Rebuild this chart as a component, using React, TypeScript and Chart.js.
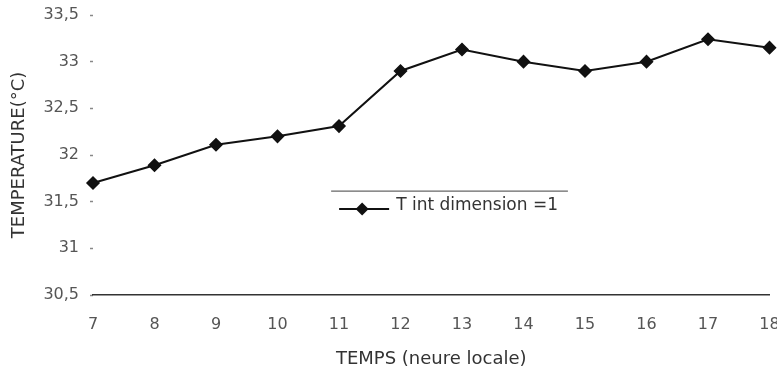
import React, { useEffect, useRef } from "react";
import { Chart, registerables } from "chart.js";

Chart.register(...registerables);

// ---- data ----
const hours: string[] = ["7", "8", "9", "10", "11", "12", "13", "14", "15", "16", "17", "18"];
const tempInt: number[] = [31.7, 31.89, 32.11, 32.2, 32.31, 32.9, 33.13, 33.0, 32.9, 33.0, 33.24, 33.15];
const seriesLabel = "T int dimension =1";
const yMin = 30.5;
const yMax = 33.5;
const yStep = 0.5;
const xTitle = "TEMPS (neure locale)";
const yTitle = "TEMPERATURE(°C)";

const FONT = "'DejaVu Sans', 'Liberation Sans', sans-serif";

const legendPlugin = {
  id: "insideLegend",
  afterDraw(chart: any) {
    const { ctx, chartArea: ca } = chart;
    const w = ca.right - ca.left;
    const h = ca.bottom - ca.top;
    const lx = ca.left + w * 0.352;
    const ly = ca.top + h * 0.629;
    const boxW = w * 0.35;
    ctx.save();
    // top rule of legend box
    ctx.strokeStyle = "#666";
    ctx.lineWidth = 1.3;
    ctx.beginPath();
    ctx.moveTo(lx, ly);
    ctx.lineTo(lx + boxW, ly);
    ctx.stroke();
    // sample line
    const sy = ly + 18;
    ctx.strokeStyle = "#111";
    ctx.lineWidth = 2;
    ctx.beginPath();
    ctx.moveTo(lx + 8, sy);
    ctx.lineTo(lx + 58, sy);
    ctx.stroke();
    // diamond
    const cx = lx + 31;
    const r = 6.5;
    ctx.fillStyle = "#111";
    ctx.beginPath();
    ctx.moveTo(cx, sy - r);
    ctx.lineTo(cx + r, sy);
    ctx.lineTo(cx, sy + r);
    ctx.lineTo(cx - r, sy);
    ctx.closePath();
    ctx.fill();
    // text
    const label = chart.data.datasets[0].label;
    ctx.font = `17px ${FONT}`;
    ctx.fillStyle = "#333";
    ctx.textAlign = "left";
    ctx.textBaseline = "middle";
    ctx.fillText(label, lx + 65, ly + 14);
    ctx.restore();
  },
};

export default function App() {
  const ref = useRef<HTMLCanvasElement | null>(null);

  useEffect(() => {
    document.body.style.margin = "0";
    const canvas = ref.current;
    if (!canvas) return;
    const chart = new Chart(canvas, {
      type: "line",
      data: {
        labels: hours,
        datasets: [
          {
            label: seriesLabel,
            data: tempInt,
            borderColor: "#111",
            backgroundColor: "#111",
            borderWidth: 2,
            pointStyle: "rectRot",
            pointRadius: 6,
            pointBackgroundColor: "#111",
            pointBorderColor: "#111",
            pointBorderWidth: 1.5,
            tension: 0,
            clip: false as any,
          },
        ],
      },
      options: {
        responsive: false,
        animation: false,
        layout: { padding: { top: 15, right: 5, bottom: 0, left: 0 } },
        plugins: {
          legend: { display: false },
          tooltip: { enabled: false },
        },
        scales: {
          x: {
            type: "category",
            offset: false,
            grid: { display: false, drawTicks: false },
            border: { display: true, color: "#333", width: 1.6 },
            ticks: {
              color: "#555",
              font: { family: FONT, size: 16 },
              padding: 20,
              maxRotation: 0,
              autoSkip: false,
            },
            title: {
              display: true,
              text: xTitle,
              color: "#333",
              font: { family: FONT, size: 18 },
              padding: { top: 0, bottom: 6 },
            },
            afterFit(scale: any) {
              scale.height = 81;
              scale.paddingLeft = 0;
              scale.paddingRight = 0;
            },
          },
          y: {
            min: yMin,
            max: yMax,
            border: { display: false },
            grid: {
              drawOnChartArea: false,
              drawTicks: true,
              tickLength: 3,
              tickColor: "#888",
              tickWidth: 1.5,
            },
            ticks: {
              stepSize: yStep,
              color: "#555",
              font: { family: FONT, size: 16 },
              padding: 11,
              callback: (v: any) => String(v).replace(".", ","),
            },
            title: {
              display: true,
              text: yTitle,
              color: "#333",
              font: { family: FONT, size: 18 },
              padding: { top: 9, bottom: 0 },
            },
            afterFit(scale: any) {
              scale.width = 93;
              scale.paddingTop = 0;
              scale.paddingBottom = 0;
            },
          },
        },
      },
      plugins: [legendPlugin],
    });
    return () => chart.destroy();
  }, []);

  return (
    <div style={{ width: 777, height: 376, overflow: "hidden", background: "#fff" }}>
      <canvas ref={ref} width={777} height={376} style={{ display: "block" }} />
    </div>
  );
}
